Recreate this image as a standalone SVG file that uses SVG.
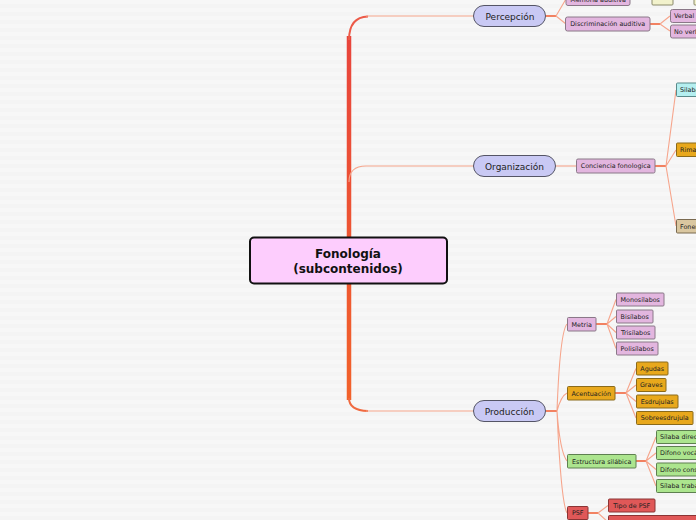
<svg xmlns="http://www.w3.org/2000/svg" width="696" height="520" viewBox="0 0 696 520">
<defs>
<pattern id="bg" width="8" height="8" patternUnits="userSpaceOnUse"><rect width="8" height="8" fill="#f7f7f7"/><rect y="4" width="8" height="4" fill="#f4f4f4"/></pattern>
<linearGradient id="trunk" gradientUnits="userSpaceOnUse" x1="349" y1="30" x2="349" y2="405"><stop offset="0" stop-color="#e8443c"/><stop offset="1" stop-color="#f2622a"/></linearGradient>
<style>
.c{fill:none;stroke:#f6a58c;stroke-width:1.1}
.cf{fill:none;stroke:#f0643c;stroke-width:1.6}
.pill{fill:#c9c9f4;stroke:#555566;stroke-width:1}
.pt{font-family:"DejaVu Sans",Verdana,sans-serif;font-size:9px;fill:#222;text-anchor:middle}
.b{stroke-width:1}
.pk{fill:#e3b6df;stroke:#8a7888}
.gd{fill:#e8a81c;stroke:#8a6a1a}
.gr{fill:#ace58e;stroke:#5e8050}
.rd{fill:#e05858;stroke:#8a3434}
.cy{fill:#b4eff0;stroke:#5a8a8a}
.tn{fill:#dac7a0;stroke:#7a6a50}
.py{fill:#f2f2cc;stroke:#8a8a6a}
.t{font-family:"DejaVu Sans",Verdana,sans-serif;font-size:6.4px;fill:#222}
.m{text-anchor:middle}
</style>
</defs>
<rect width="696" height="520" fill="url(#bg)"/>
<g id="connectors">
<path d="M349,400 L349,36" stroke="url(#trunk)" stroke-width="4.5" fill="none"/>
<path d="M349,40 Q349,17 368,16.5" stroke="#ec5a48" stroke-width="2" fill="none"/>
<path d="M349,398 Q349,410.5 368,411" stroke="#f06a40" stroke-width="2" fill="none"/>
<path class="c" d="M366,16 L474,16"/>
<path class="c" d="M349,182 Q349,166 366,166 L474,166"/>
<path class="c" d="M366,411 L474,411"/>
<path class="cf" d="M546,16 L556,16"/>
<path class="c" d="M556,16 L566,-1 M556,16 L566,24"/>
<path class="cf" d="M630,-1 L641,-1"/>
<path class="c" d="M641,-1 L652,-1"/>
<path class="cf" d="M650,24 L660,24"/>
<path class="c" d="M660,24 L670,16 M660,24 L670,31"/>
<path class="c" d="M556,166 L576,166"/>
<path class="cf" d="M655,166 L666,166"/>
<path class="c" d="M666,166 L676,90 M666,166 L676,150 M666,166 L676,226"/>
<path class="cf" d="M546,411 L557,411"/>
<path class="c" d="M557,411 Q560,332 567,324 M557,411 Q561,396 567,393 M557,411 Q560,452 567,461 M557,411 Q561,502 567,513"/>
<path class="cf" d="M596,324 L607,324"/>
<path class="c" d="M607,324 L616,299.5 M607,324 L616,316.5 M607,324 L616,332.5 M607,324 L616,348.5"/>
<path class="cf" d="M615,393 L626,393"/>
<path class="c" d="M626,393 L636,368.5 M626,393 L636,385 M626,393 L636,401.5 M626,393 L636,418"/>
<path class="cf" d="M636,461 L646,461"/>
<path class="c" d="M646,461 L656,437 M646,461 L656,453 M646,461 L656,469.5 M646,461 L656,486"/>
<path class="cf" d="M588,513 L598,513"/>
<path class="c" d="M598,513 L608,505.5 M598,513 L608,522"/>
</g>
<g id="n-root">
<rect x="250" y="237.5" width="197" height="46" rx="4" fill="#fdcdfd" stroke="#111" stroke-width="2"/>
<text x="348" y="258" font-family="'DejaVu Sans',Verdana,sans-serif" font-size="12" font-weight="bold" text-anchor="middle" fill="#111">Fonología</text>
<text x="348" y="273" font-family="'DejaVu Sans',Verdana,sans-serif" font-size="12" font-weight="bold" text-anchor="middle" fill="#111">(subcontenidos)</text>
</g>
<g id="n-percepcion"><rect class="pill" x="473.5" y="5.5" width="72" height="21" rx="10.5"/><text class="pt" x="510" y="19.5">Percepción</text></g>
<g id="n-organizacion"><rect class="pill" x="473.5" y="155.5" width="82" height="21" rx="10.5"/><text class="pt" x="514.5" y="169.5">Organización</text></g>
<g id="n-produccion"><rect class="pill" x="473.5" y="400.5" width="72" height="21" rx="10.5"/><text class="pt" x="509.5" y="414.5">Producción</text></g>
<g id="n-memoria"><rect class="b pk" x="566" y="-8" width="64" height="13.5" rx="2"/><text class="t m" x="598" y="2">Memoria auditiva</text></g>
<g id="n-memoria-1"><rect class="b py" x="652" y="-8" width="21" height="13" rx="1"/></g>
<g id="n-memoria-2"><rect class="b py" x="694" y="-8" width="20" height="13" rx="1"/></g>
<g id="n-discriminacion"><rect class="b pk" x="565.5" y="17" width="84.5" height="14" rx="2"/><text class="t m" x="607.7" y="26.3">Discriminación auditiva</text></g>
<g id="n-verbal"><rect class="b pk" x="670.5" y="9.5" width="40" height="13" rx="2"/><text class="t" x="674" y="18.3">Verbal</text></g>
<g id="n-noverbal"><rect class="b pk" x="670.5" y="25" width="40" height="13" rx="2"/><text class="t" x="674" y="33.8">No verbal</text></g>
<g id="n-conciencia"><rect class="b pk" x="576.5" y="159" width="78.5" height="14" rx="1.5"/><text class="t m" x="615.7" y="168.3">Conciencia fonologica</text></g>
<g id="n-silabas"><rect class="b cy" x="676.5" y="83" width="40" height="13.5" rx="1"/><text class="t" x="680" y="92">Silabas</text></g>
<g id="n-rima"><rect class="b gd" x="676.5" y="143" width="40" height="13.5" rx="1"/><text class="t" x="680" y="152">Rima</text></g>
<g id="n-fonemas"><rect class="b tn" x="676.5" y="219.5" width="40" height="13.5" rx="1"/><text class="t" x="680" y="228.5">Fonemas</text></g>
<g id="n-metria"><rect class="b pk" x="567.5" y="317.5" width="28.5" height="13.5" rx="1"/><text class="t m" x="581.7" y="326.5">Metria</text></g>
<g id="n-mono"><rect class="b pk" x="616.5" y="293" width="47.5" height="13" rx="1"/><text class="t m" x="640.2" y="301.8">Monosílabos</text></g>
<g id="n-bi"><rect class="b pk" x="616.5" y="310" width="36.5" height="13" rx="1"/><text class="t m" x="634.7" y="318.8">Bisílabos</text></g>
<g id="n-tri"><rect class="b pk" x="616.5" y="326" width="38.5" height="13" rx="1"/><text class="t m" x="635.7" y="334.8">Trisílabos</text></g>
<g id="n-poli"><rect class="b pk" x="616.5" y="342" width="41.5" height="13" rx="1"/><text class="t m" x="637.2" y="350.8">Polisílabos</text></g>
<g id="n-acentuacion"><rect class="b gd" x="567.5" y="386.5" width="47.5" height="13.5" rx="1"/><text class="t m" x="591.2" y="395.5">Acentuación</text></g>
<g id="n-agudas"><rect class="b gd" x="636.5" y="362" width="31.5" height="13" rx="1"/><text class="t m" x="652.2" y="370.8">Agudas</text></g>
<g id="n-graves"><rect class="b gd" x="636.5" y="378.5" width="29.5" height="13" rx="1"/><text class="t m" x="651.2" y="387.3">Graves</text></g>
<g id="n-esdrujulas"><rect class="b gd" x="636.5" y="395" width="41.5" height="13" rx="1"/><text class="t m" x="657.2" y="403.8">Esdrujulas</text></g>
<g id="n-sobre"><rect class="b gd" x="636.5" y="411.5" width="56.5" height="13" rx="1"/><text class="t m" x="664.7" y="420.3">Sobreesdrujula</text></g>
<g id="n-estructura"><rect class="b gr" x="567.5" y="454.5" width="68.5" height="13.5" rx="1"/><text class="t m" x="601.7" y="463.5">Estructura silábica</text></g>
<g id="n-directa"><rect class="b gr" x="656.5" y="430.5" width="60" height="13" rx="1"/><text class="t" x="660" y="439.3">Sílaba directa</text></g>
<g id="n-vocalico"><rect class="b gr" x="656.5" y="446.5" width="60" height="13" rx="1"/><text class="t" x="660" y="455.3">Difono vocálico</text></g>
<g id="n-consonantico"><rect class="b gr" x="656.5" y="463" width="60" height="13" rx="1"/><text class="t" x="660" y="471.8">Difono consonántico</text></g>
<g id="n-trabada"><rect class="b gr" x="656.5" y="479.5" width="60" height="13" rx="1"/><text class="t" x="660" y="488.3">Sílaba trabada</text></g>
<g id="n-psf"><rect class="b rd" x="567.5" y="506.5" width="20.5" height="13" rx="1"/><text class="t m" x="577.7" y="515.3">PSF</text></g>
<g id="n-tipopsf"><rect class="b rd" x="608.5" y="499" width="46.5" height="13" rx="1"/><text class="t m" x="631.7" y="507.8">Tipo de PSF</text></g>
<g id="n-psf2"><rect class="b rd" x="608.5" y="515.5" width="100" height="13" rx="1"/></g>
</svg>
